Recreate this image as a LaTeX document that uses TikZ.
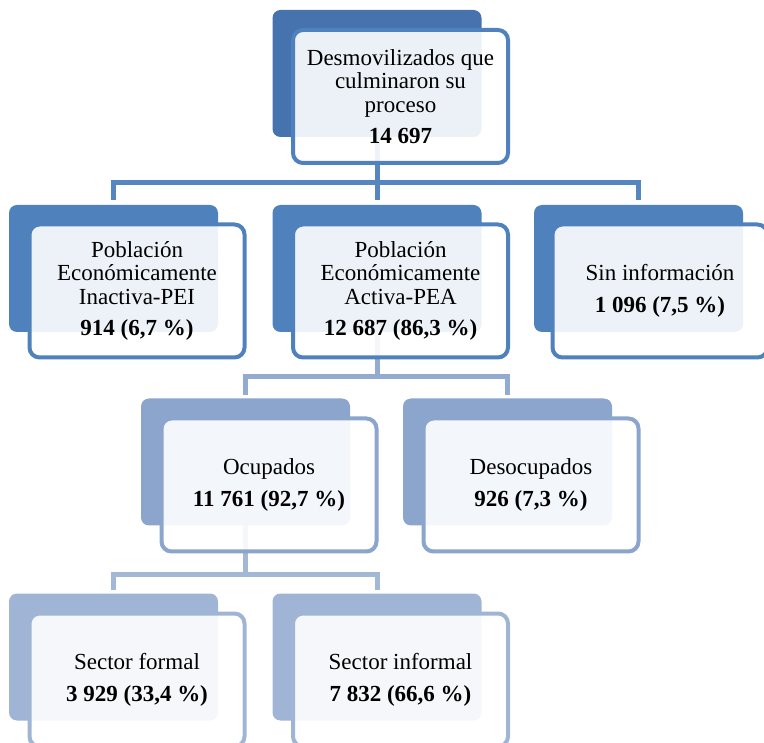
\documentclass[tikz,border=0pt]{standalone}
\usepackage{fontspec}
\setmainfont{Liberation Serif}
\usetikzlibrary{backgrounds,calc}
\definecolor{cAback}{HTML}{4673AE}
\definecolor{cA}{HTML}{4F81BD}
\definecolor{cB}{HTML}{4F81BD}
\definecolor{cC}{HTML}{8BA5CC}
\definecolor{cD}{HTML}{A0B5D5}
\definecolor{lAB}{HTML}{5586C1}
\definecolor{lBC}{HTML}{93ABD1}
\definecolor{lCD}{HTML}{A3B8D7}
\tikzset{
  backbox/.style={rectangle, rounded corners=8pt, minimum width=209pt, minimum height=127pt, inner sep=0pt, fill=#1},
  frontbox/.style={rectangle, rounded corners=10pt, minimum width=215pt, minimum height=133pt, inner sep=0pt, draw=#1, line width=4pt, fill=white, fill opacity=0.9, text opacity=1, align=center, font=\fontsize{23pt}{23.5pt}\selectfont},
  conn/.style={line width=5pt, draw=#1, line cap=rect, line join=miter},
}
\begin{document}
\begin{tikzpicture}[x=1pt,y=-1pt]
\useasboundingbox (0,0) rectangle (764,743);
% level 1
\node[backbox=cAback] (a) at (377,73.5) {};
\node[frontbox=cA] (A) at (400.5,96.5) {Desmovilizados que\\culminaron su\\proceso\\[8pt]\textbf{14 697}};
% level 2
\node[backbox=cB] (b1) at (113.5,268.5) {};
\node[frontbox=cB] (B1) at (137,291) {Población\\Económicamente\\Inactiva-PEI\\[8pt]\textbf{914 (6,7 \%)}};
\node[backbox=cB] (b2) at (377,268.5) {};
\node[frontbox=cB] (B2) at (400.5,291) {Población\\Económicamente\\Activa-PEA\\[8pt]\textbf{12 687 (86,3 \%)}};
\node[backbox=cB] (b3) at (638.5,268.5) {};
\node[frontbox=cB] (B3) at (660,291) {Sin información\\[8pt]\textbf{1 096 (7,5 \%)}};
% level 3
\node[backbox=cC] (c1) at (245.5,462) {};
\node[frontbox=cC] (C1) at (269,485) {Ocupados\\[8pt]\textbf{11 761 (92,7 \%)}};
\node[backbox=cC] (c2) at (507.5,462) {};
\node[frontbox=cC] (C2) at (531,485) {Desocupados\\[8pt]\textbf{926 (7,3 \%)}};
% level 4
\node[backbox=cD] (d1) at (113.5,657) {};
\node[frontbox=cD] (D1) at (137,680) {Sector formal\\[8pt]\textbf{3 929 (33,4 \%)}};
\node[backbox=cD] (d2) at (377,657) {};
\node[frontbox=cD] (D2) at (400.5,680) {Sector informal\\[8pt]\textbf{7 832 (66,6 \%)}};
% connectors
\coordinate (h1) at (0,183);
\coordinate (h2) at (0,377);
\coordinate (h3) at (0,574);
\begin{scope}[on background layer]
\foreach \c in {b1,b2,b3}
  \draw[conn=lAB] (a.center) -- (a.center |- h1) -| ([yshift=7pt]\c.north);
\foreach \c in {c1,c2}
  \draw[conn=lBC] (b2.center) -- (b2.center |- h2) -| ([yshift=6pt]\c.north);
\foreach \c in {d1,d2}
  \draw[conn=lCD] (c1.center) -- (c1.center |- h3) -| ([yshift=6pt]\c.north);
\end{scope}
\end{tikzpicture}
\end{document}
